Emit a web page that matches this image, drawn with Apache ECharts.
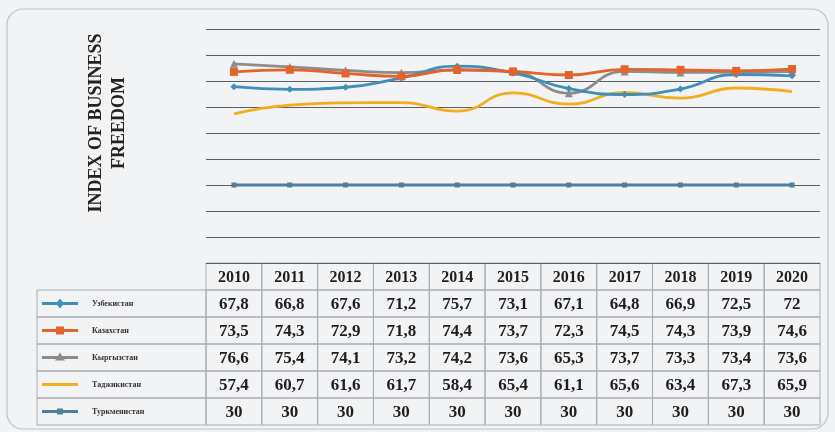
<!DOCTYPE html>
<html>
<head>
<meta charset="utf-8">
<script src="https://cdn.jsdelivr.net/npm/echarts@6/dist/echarts.min.js"></script>
<style>
html,body{margin:0;padding:0;background:#f2f3f5;}
#c{width:835px;height:432px;}
</style>
</head>
<body>
<div id="c"></div>
<script>
const years = ['2010','2011','2012','2013','2014','2015','2016','2017','2018','2019','2020'];
const countries = ['Узбекистан','Казахстан','Кыргызстан','Таджикистан','Туркменистан'];
const uzbekistan   = [67.8, 66.8, 67.6, 71.2, 75.7, 73.1, 67.1, 64.8, 66.9, 72.5, 72];
const kazakhstan   = [73.5, 74.3, 72.9, 71.8, 74.4, 73.7, 72.3, 74.5, 74.3, 73.9, 74.6];
const kyrgyzstan   = [76.6, 75.4, 74.1, 73.2, 74.2, 73.6, 65.3, 73.7, 73.3, 73.4, 73.6];
const tajikistan   = [57.4, 60.7, 61.6, 61.7, 58.4, 65.4, 61.1, 65.6, 63.4, 67.3, 65.9];
const turkmenistan = [30, 30, 30, 30, 30, 30, 30, 30, 30, 30, 30];
const yTicks = [0, 10, 20, 30, 40, 50, 60, 70, 80, 90];

const seriesData = [uzbekistan, kazakhstan, kyrgyzstan, tajikistan, turkmenistan];
const colors = ['#3f8fba', '#e2642c', '#8c8c8c', '#f2ae1c', '#4e7f9e'];
const symbols = ['diamond', 'rect', 'triangle', 'none', 'rect'];
const symSizes = [7, 8, 8, 0, 5];

const G = {left: 206, right: 15, top: 29, bottom: 169};
const chart = echarts.init(document.getElementById('c'), null, {renderer: 'canvas'});

const fmt = v => String(v).replace('.', ',');

function buildGraphics() {
  const els = [];
  // outer frame
  els.push({type: 'rect', shape: {x: 7, y: 9, width: 821, height: 420, r: 16}, style: {fill: 'none', stroke: '#bfc2c6', lineWidth: 1.2}, silent: true, z: 0});
  // y axis title
  els.push({type: 'text', x: 108, y: 123, rotation: Math.PI / 2,
    style: {text: 'INDEX OF BUSINESS\nFREEDOM', font: 'bold 18px "Liberation Serif", serif', fill: '#222', align: 'center', verticalAlign: 'middle', lineHeight: 23}});
  const tableLeft = G.left;
  const tableRight = 835 - G.right;
  const colW = (tableRight - tableLeft) / years.length;
  const top = 263, rowH = 27, legLeft = 37;
  const stroke = '#a9acb0';
  // header cells
  years.forEach((y, i) => {
    const x = tableLeft + i * colW;
    els.push({type: 'rect', shape: {x: x, y: top, width: colW, height: rowH}, style: {fill: 'none', stroke: stroke, lineWidth: 1}});
    els.push({type: 'text', x: x + colW / 2, y: top + rowH / 2 + 1, style: {text: y, font: 'bold 16px "Liberation Serif", serif', fill: '#1e1e1e', align: 'center', verticalAlign: 'middle'}});
  });
  seriesData.forEach((arr, r) => {
    const y0 = top + rowH * (r + 1);
    els.push({type: 'rect', shape: {x: legLeft, y: y0, width: tableLeft - legLeft, height: rowH}, style: {fill: 'none', stroke: stroke, lineWidth: 1}});
    const cy = y0 + rowH / 2;
    els.push({type: 'line', shape: {x1: 42, y1: cy, x2: 78, y2: cy}, style: {stroke: colors[r], lineWidth: 3}});
    if (symbols[r] === 'diamond') {
      els.push({type: 'polygon', shape: {points: [[60, cy - 5], [64, cy], [60, cy + 5], [56, cy]]}, style: {fill: colors[r]}});
    } else if (symbols[r] === 'rect') {
      const s = r === 1 ? 8 : 6;
      els.push({type: 'rect', shape: {x: 60 - s / 2, y: cy - s / 2, width: s, height: s}, style: {fill: colors[r]}});
    } else if (symbols[r] === 'triangle') {
      els.push({type: 'polygon', shape: {points: [[60, cy - 5], [65, cy + 3], [55, cy + 3]]}, style: {fill: colors[r]}});
    }
    els.push({type: 'text', x: 92, y: cy, style: {text: countries[r], font: 'bold 8px "Liberation Serif", serif', fill: '#333', align: 'left', verticalAlign: 'middle'}});
    arr.forEach((v, i) => {
      const x = tableLeft + i * colW;
      els.push({type: 'rect', shape: {x: x, y: y0, width: colW, height: rowH}, style: {fill: 'none', stroke: stroke, lineWidth: 1}});
      els.push({type: 'text', x: x + colW / 2, y: cy + 1, style: {text: fmt(v), font: 'bold 17px "Liberation Serif", serif', fill: '#1e1e1e', align: 'center', verticalAlign: 'middle'}});
    });
  });
  return els;
}

chart.setOption({
  backgroundColor: '#f2f3f5',
  animation: false,
  grid: {left: G.left, right: G.right, top: G.top, bottom: G.bottom, containLabel: false},
  xAxis: {type: 'category', data: years, boundaryGap: true,
    axisLine: {show: false}, axisTick: {show: false}, axisLabel: {show: false}},
  yAxis: {type: 'value', min: yTicks[0], max: yTicks[yTicks.length - 1], interval: yTicks[1] - yTicks[0],
    axisLine: {show: false}, axisTick: {show: false}, axisLabel: {show: false},
    splitLine: {lineStyle: {color: '#5c5f63', width: 1.2}}},
  series: seriesData.map((d, i) => ({
    name: countries[i], type: 'line', data: d, smooth: true,
    symbol: symbols[i], symbolSize: symSizes[i],
    lineStyle: {color: colors[i], width: 2.8},
    itemStyle: {color: colors[i]},
    z: [3, 4, 2, 2, 2][i]
  })),
  graphic: buildGraphics()
});
</script>
</body>
</html>
